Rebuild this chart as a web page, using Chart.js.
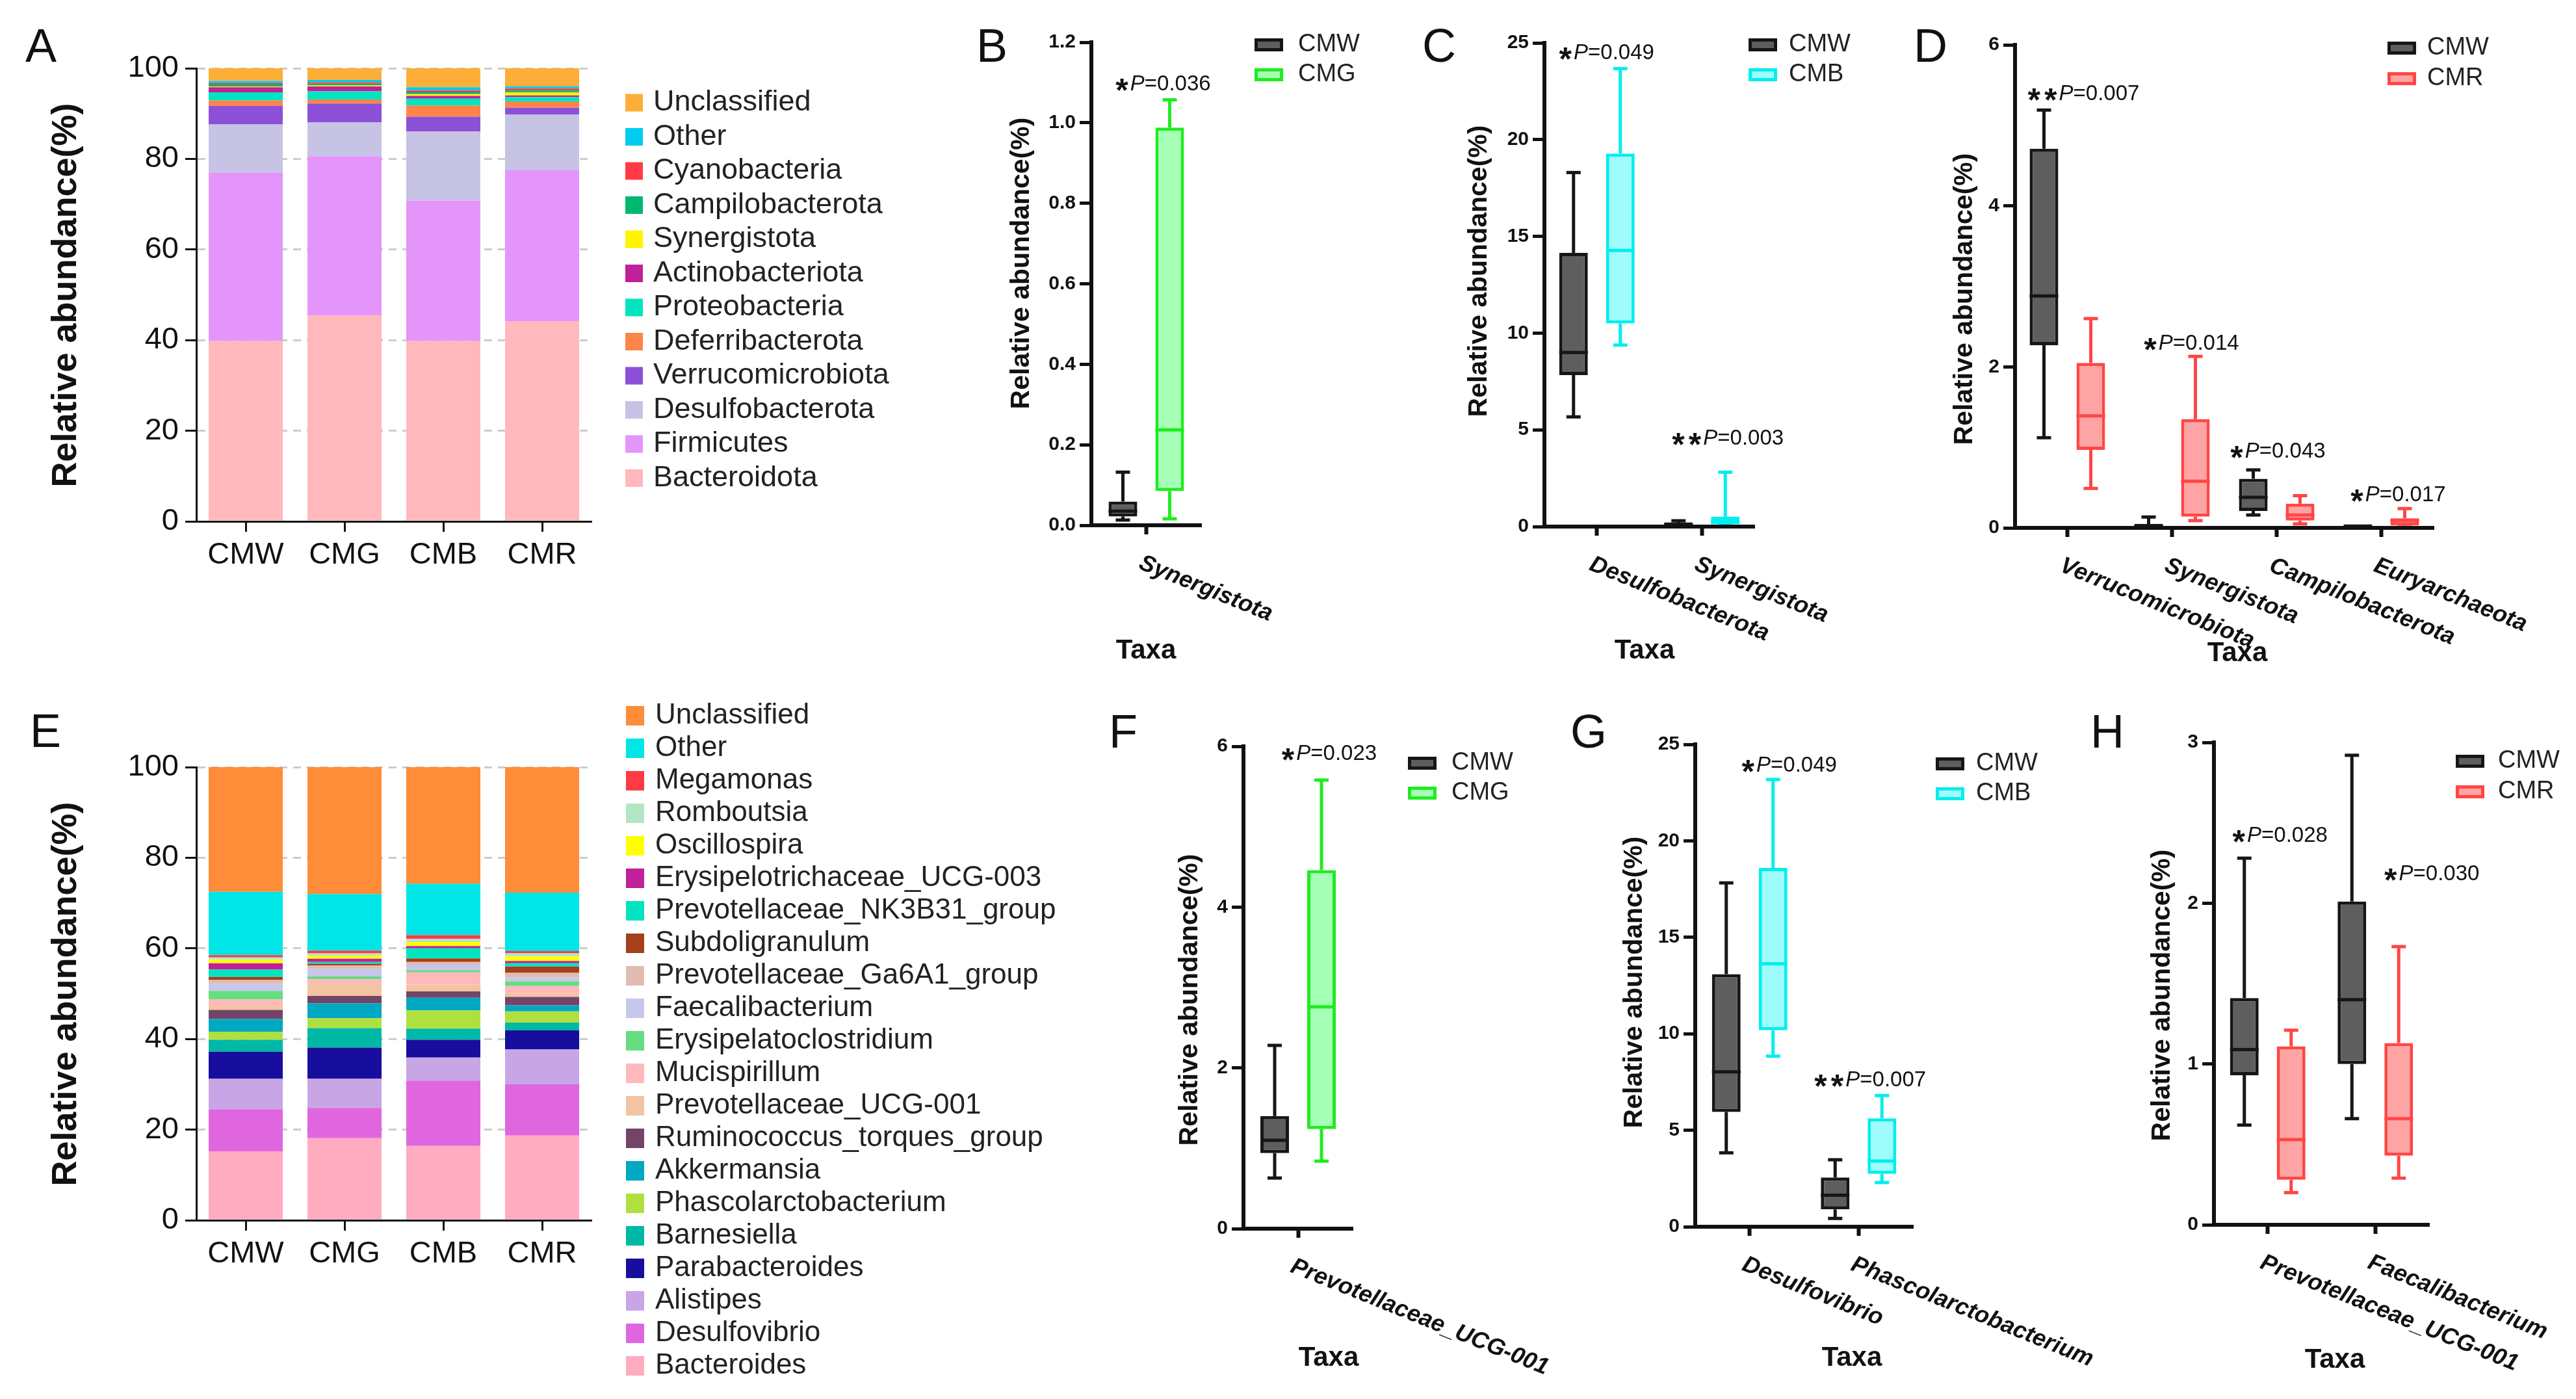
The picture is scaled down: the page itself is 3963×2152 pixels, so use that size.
<!DOCTYPE html>
<html>
<head>
<meta charset="utf-8">
<title>Relative abundance of gut microbiota</title>
<script src="https://cdn.jsdelivr.net/npm/chart.js@4/dist/chart.umd.min.js"></script>
<style>
  html, body { margin:0; padding:0; background:#ffffff; }
  #page { position:relative; width:3963px; height:2152px; overflow:hidden; background:#ffffff; }
  #page canvas { position:absolute; }
</style>
</head>
<body>
<div id="page"></div>
<script>
// ======================= DATA =======================
const groups = ['CMW', 'CMG', 'CMB', 'CMR'];
const stackTicks = [0, 20, 40, 60, 80, 100];

// Panel A – phylum level (stack order bottom -> top)
const phylumTaxa = ['Bacteroidota','Firmicutes','Desulfobacterota','Verrucomicrobiota','Deferribacterota','Proteobacteria','Actinobacteriota','Synergistota','Campilobacterota','Cyanobacteria','Other','Unclassified'];
const phylumCMW = [39.8, 37.1, 10.7, 4.1, 1.2, 1.8, 1.1, 0.2, 0.4, 0.3, 0.5, 2.8];
const phylumCMG = [45.4, 35.2, 7.5, 4.1, 0.9, 1.8, 1.1, 0.2, 0.4, 0.3, 0.5, 2.6];
const phylumCMB = [39.8, 31.0, 15.3, 3.2, 2.5, 1.5, 0.6, 0.4, 0.4, 0.4, 0.7, 4.2];
const phylumCMR = [44.2, 33.4, 12.2, 1.5, 1.4, 0.9, 0.4, 0.7, 0.4, 0.4, 0.5, 4.0];
const phylumColors = ['#FFB8BC','#E495FA','#C7C3E5','#8C50D8','#FF8448','#00E5C0','#C0209A','#FFF500','#00B870','#FF3A47','#00CCF0','#FDAE38'];

// Panel E – genus level (stack order bottom -> top)
const genusTaxa = ['Bacteroides','Desulfovibrio','Alistipes','Parabacteroides','Barnesiella','Phascolarctobacterium','Akkermansia','Ruminococcus_torques_group','Prevotellaceae_UCG-001','Mucispirillum','Erysipelatoclostridium','Faecalibacterium','Prevotellaceae_Ga6A1_group','Subdoligranulum','Prevotellaceae_NK3B31_group','Erysipelotrichaceae_UCG-003','Oscillospira','Romboutsia','Megamonas','Other','Unclassified'];
const genusCMW = [15.2, 9.3, 6.7, 6.0, 2.6, 1.8, 2.8, 2.0, 1.1, 1.2, 1.9, 1.6, 0.8, 0.7, 1.6, 1.4, 0.8, 0.5, 0.5, 14.0, 27.5];
const genusCMG = [18.1, 6.7, 6.4, 6.9, 4.3, 2.2, 3.3, 1.6, 2.7, 1.0, 0.6, 1.6, 0.8, 0.4, 0.4, 0.7, 0.7, 0.5, 0.6, 12.5, 28.0];
const genusCMB = [16.4, 14.4, 5.1, 3.9, 2.5, 4.0, 2.8, 1.4, 1.5, 2.7, 0.5, 1.2, 0.6, 0.8, 2.2, 0.5, 0.9, 0.7, 0.8, 11.4, 25.7];
const genusCMR = [18.7, 11.3, 7.7, 4.2, 1.7, 2.5, 1.3, 1.9, 0.8, 1.6, 1.0, 0.9, 1.0, 1.4, 0.7, 0.5, 1.0, 0.7, 0.5, 12.9, 27.7];
const genusColors = ['#FFABC0','#E066E0','#C8A6E6','#180E9E','#00B8A6','#B0E040','#00A8C2','#744468','#F2C4A2','#FFB8BC','#66DD80','#C7C7EC','#E2BCB0','#A4401C','#00E5C0','#C0209A','#FFFF00','#B3E6C4','#FF3A47','#00E6E6','#FF8C38'];

// Box plots: each entry = [min, Q1, median, Q3, max]
// annotations: [stars, P value, taxon index, height of label (data units)]
const ticksB = [0, 0.2, 0.4, 0.6, 0.8, 1.0, 1.2];
const taxaB = ['Synergistota'];
const boxB_CMW = [[0.013, 0.022, 0.035, 0.059, 0.132]];
const boxB_CMG = [[0.016, 0.085, 0.237, 0.988, 1.057]];
const annB = [['*', '0.036', 0, 1.10]];

const ticksC = [0, 5, 10, 15, 20, 25];
const taxaC = ['Desulfobacterota', 'Synergistota'];
const boxC_CMW = [[5.67, 7.83, 9.0, 14.15, 18.3], [0.02, 0.05, 0.10, 0.18, 0.30]];
const boxC_CMB = [[9.38, 10.5, 14.27, 19.28, 23.67], [0.05, 0.12, 0.25, 0.50, 2.81]];
const annC = [['*', '0.049', 0, 24.56], ['**', '0.003', 1, 4.64]];

const ticksD = [0, 2, 4, 6];
const taxaD = ['Verrucomicrobiota', 'Synergistota', 'Campilobacterota', 'Euryarchaeota'];
const boxD_CMW = [[1.12, 2.27, 2.88, 4.71, 5.19], [0.005, 0.01, 0.02, 0.04, 0.135], [0.16, 0.21, 0.38, 0.61, 0.72], [0.0, 0.005, 0.01, 0.015, 0.02]];
const boxD_CMR = [[0.49, 0.97, 1.39, 2.05, 2.60], [0.09, 0.14, 0.58, 1.35, 2.13], [0.05, 0.09, 0.16, 0.30, 0.40], [0.01, 0.03, 0.09, 0.12, 0.24]];
const annD = [['**', '0.007', 0, 5.41], ['*', '0.014', 1, 2.31], ['*', '0.043', 2, 0.97], ['*', '0.017', 3, 0.43]];

const ticksF = [0, 2, 4, 6];
const taxaF = ['Prevotellaceae_UCG-001'];
const boxF_CMW = [[0.63, 0.94, 1.10, 1.40, 2.28]];
const boxF_CMG = [[0.84, 1.24, 2.76, 4.46, 5.58]];
const annF = [['*', '0.023', 0, 5.93]];

const ticksG = [0, 5, 10, 15, 20, 25];
const taxaG = ['Desulfovibrio', 'Phascolarctobacterium'];
const boxG_CMW = [[3.83, 5.95, 8.03, 13.09, 17.82], [0.43, 0.90, 1.63, 2.55, 3.47]];
const boxG_CMB = [[8.84, 10.18, 13.63, 18.60, 23.18], [2.29, 2.74, 3.40, 5.62, 6.80]];
const annG = [['*', '0.049', 0, 23.99], ['**', '0.007', 1, 7.68]];

const ticksH = [0, 1, 2, 3];
const taxaH = ['Prevotellaceae_UCG-001', 'Faecalibacterium'];
const boxH_CMW = [[0.62, 0.93, 1.09, 1.41, 2.28], [0.66, 1.00, 1.40, 2.01, 2.92]];
const boxH_CMR = [[0.20, 0.28, 0.53, 1.11, 1.21], [0.29, 0.43, 0.66, 1.13, 1.73]];
const annH = [['*', '0.028', 0, 2.43], ['*', '0.030', 1, 2.19]];

// ======================= STYLE =======================
const FONT = '"Liberation Sans", Arial, Helvetica, sans-serif';
const INK = '#111111';
const groupStyle = {
  CMW: { fill: '#5e5e5e', line: '#161616' },
  CMG: { fill: '#a6ffb6', line: '#1fec1f' },
  CMB: { fill: '#9ffcfc', line: '#00eeee' },
  CMR: { fill: '#ffa4a4', line: '#ff4646' }
};
Chart.defaults.font.family = FONT;
Chart.defaults.color = INK;

const page = document.getElementById('page');
function makeCanvas(r) {
  const c = document.createElement('canvas');
  c.width = r.w; c.height = r.h;
  c.style.left = r.x + 'px'; c.style.top = r.y + 'px';
  c.style.width = r.w + 'px'; c.style.height = r.h + 'px';
  page.appendChild(c);
  return c.getContext('2d');
}
function padFor(r, plot, yW, xH) {
  return { left: plot.l - r.x - yW, top: plot.t - r.y, right: r.x + r.w - plot.r, bottom: r.y + r.h - plot.b - xH };
}
function txt(ctx, s, x, y, font, align, base, color) {
  ctx.font = font; ctx.textAlign = align || 'left'; ctx.textBaseline = base || 'alphabetic';
  ctx.fillStyle = color || INK; ctx.fillText(s, x, y);
}
function vtitle(ctx, s, x, y, font) {
  ctx.save(); ctx.translate(x, y); ctx.rotate(-Math.PI / 2);
  txt(ctx, s, 0, 0, font, 'center', 'middle'); ctx.restore();
}
function decorPlugin(r, fn) {
  return { id: 'decor', afterDraw(chart) { const ctx = chart.ctx; ctx.save(); ctx.translate(-r.x, -r.y); fn(ctx, chart); ctx.restore(); } };
}
function drawPval(ctx, stars, p, cx, cy) {
  const fs = 'bold 50px ' + FONT, fi = 'italic 33px ' + FONT, fr = '33px ' + FONT;
  ctx.font = fs; const one = ctx.measureText('*').width;
  const starStep = one + 6;
  const sw = one + (stars.length - 1) * starStep;
  ctx.font = fi; const pw = ctx.measureText('P').width;
  const rest = '=' + p;
  ctx.font = fr; const rw = ctx.measureText(rest).width;
  const gap = 3;
  let x = cx - (sw + gap + pw + rw) / 2;
  for (let i = 0; i < stars.length; i++) txt(ctx, '*', x + i * starStep, cy + 29, fs, 'left', 'alphabetic');
  x += sw + gap;
  txt(ctx, 'P', x, cy + 12, fi, 'left', 'alphabetic');
  x += pw;
  txt(ctx, rest, x, cy + 12, fr, 'left', 'alphabetic');
}

// whiskers + medians for the box plots, drawn from the stats through the y scale
const boxWhiskers = {
  id: 'boxWhiskers',
  afterDatasetsDraw(chart) {
    const ctx = chart.ctx, ys = chart.scales.y;
    chart.data.datasets.forEach((ds, di) => {
      const meta = chart.getDatasetMeta(di);
      ds.stats.forEach((s, i) => {
        const el = meta.data[i]; if (!el) return;
        const x = el.x, w = el.width;
        const py = v => ys.getPixelForValue(v);
        ctx.save();
        ctx.strokeStyle = ds.borderColor; ctx.lineWidth = ds.borderWidth; ctx.lineCap = 'butt';
        const seg = (x1, y1, x2, y2) => { ctx.beginPath(); ctx.moveTo(x1, y1); ctx.lineTo(x2, y2); ctx.stroke(); };
        seg(x, py(s[3]), x, py(s[4]));
        seg(x, py(s[1]), x, py(s[0]));
        seg(x - w / 4, py(s[4]), x + w / 4, py(s[4]));
        seg(x - w / 4, py(s[0]), x + w / 4, py(s[0]));
        seg(x - w / 2, py(s[2]), x + w / 2, py(s[2]));
        ctx.restore();
      });
    });
  }
};

// ======================= STACKED PANELS =======================
function stackPanel(p) {
  const ctx = makeCanvas(p.region);
  const datasets = p.taxa.map((t, k) => ({
    label: t, data: p.series.map(g => g[k]), backgroundColor: p.colors[k],
    borderWidth: 0, barPercentage: 0.75, categoryPercentage: 1.0
  }));
  new Chart(ctx, {
    type: 'bar',
    data: { labels: groups, datasets },
    options: {
      responsive: false, animation: false, devicePixelRatio: 1, events: [],
      layout: { padding: padFor(p.region, p.plot, 180, 100) },
      plugins: { legend: { display: false }, tooltip: { enabled: false } },
      scales: {
        x: {
          stacked: true,
          grid: { display: true, drawOnChartArea: false, offset: false, drawTicks: true, tickLength: 16, tickWidth: 3, tickColor: INK },
          border: { display: true, color: INK, width: 3, z: 1 },
          ticks: { font: { family: FONT, size: 47 }, color: INK, padding: 8, autoSkip: false, maxRotation: 0 },
          afterFit: s => { s.height = 100; }
        },
        y: {
          stacked: true, min: stackTicks[0], max: stackTicks[stackTicks.length - 1],
          afterBuildTicks: s => { s.ticks = stackTicks.map(v => ({ value: v })); },
          grid: { display: true, color: '#cccccc', lineWidth: 3, drawTicks: true, tickLength: 17, tickWidth: 3, tickColor: INK },
          border: { display: true, color: INK, width: 3, dash: [12, 9], z: 1 },
          ticks: { font: { family: FONT, size: 47 }, color: INK, padding: 10 },
          afterFit: s => { s.width = 180; }
        }
      }
    },
    plugins: [decorPlugin(p.region, (c) => {
      txt(c, p.letter[0], p.letter[1], p.letter[2], '72px ' + FONT, 'left', 'alphabetic');
      vtitle(c, 'Relative abundance(%)', p.ytitle[0], p.ytitle[1], 'bold 54px ' + FONT);
      const L = p.legend, n = p.taxa.length;
      for (let i = 0; i < n; i++) {
        const k = n - 1 - i, y = L.y0 + i * L.dy;
        c.fillStyle = p.colors[k];
        c.fillRect(L.sx, y - L.sh / 2, L.sw, L.sh);
        txt(c, p.taxa[k], L.tx, y, L.size + 'px ' + FONT, 'left', 'middle', '#222');
      }
    })]
  });
}

// ======================= BOX PANELS =======================
function boxPanel(p) {
  const ctx = makeCanvas(p.region);
  const n = p.taxa.length;
  const catW = (p.plot.r - p.plot.l) / n;
  const slot = 72, boxW = 44;
  const datasets = p.series.map(s => ({
    label: s.name,
    data: s.stats.map(v => [v[1], v[3]]),
    stats: s.stats,
    backgroundColor: groupStyle[s.name].fill,
    borderColor: groupStyle[s.name].line,
    borderWidth: 5, borderSkipped: false, minBarLength: 5,
    categoryPercentage: Math.min(1, 2 * slot / catW),
    barPercentage: boxW / slot
  }));
  new Chart(ctx, {
    type: 'bar',
    data: { labels: p.taxa, datasets },
    options: {
      responsive: false, animation: false, devicePixelRatio: 1, events: [],
      layout: { padding: padFor(p.region, p.plot, 120, 60) },
      plugins: { legend: { display: false }, tooltip: { enabled: false } },
      scales: {
        x: {
          type: 'category', offset: true,
          grid: { display: true, drawOnChartArea: false, offset: false, drawTicks: true, tickLength: 14, tickWidth: 6, tickColor: INK },
          border: { display: true, color: INK, width: 6, z: 1 },
          ticks: { display: false },
          afterFit: s => { s.height = 60; }
        },
        y: {
          min: p.ticks[0], max: p.ticks[p.ticks.length - 1],
          afterBuildTicks: s => { s.ticks = p.ticks.map(v => ({ value: v })); },
          grid: { display: true, drawOnChartArea: false, drawTicks: true, tickLength: 18, tickWidth: 5, tickColor: INK },
          border: { display: true, color: INK, width: 6, z: 1 },
          ticks: { font: { family: FONT, size: 30, weight: 'bold' }, color: INK, padding: 6, callback: v => p.fmt(v) },
          afterFit: s => { s.width = 120; }
        }
      }
    },
    plugins: [boxWhiskers, decorPlugin(p.region, (c, chart) => {
      const r = p.region, xs = chart.scales.x, ys = chart.scales.y;
      txt(c, p.letter[0], p.letter[1], p.letter[2], '72px ' + FONT, 'left', 'alphabetic');
      vtitle(c, 'Relative abundance(%)', p.ytitle[0], p.ytitle[1], 'bold 41px ' + FONT);
      p.taxa.forEach((t, i) => {
        const x = xs.getPixelForValue(i) + r.x, y = chart.chartArea.bottom + r.y + 40;
        c.save(); c.translate(x - 3, y); c.rotate(22 * Math.PI / 180);
        txt(c, t, 0, 0, 'italic bold 36px ' + FONT, 'left', 'top');
        c.restore();
      });
      txt(c, 'Taxa', p.taxaPos[0], p.taxaPos[1], 'bold 42px ' + FONT, 'center', 'middle');
      p.series.forEach((s, k) => {
        const st = groupStyle[s.name], y = p.legend.y[k];
        c.fillStyle = st.fill; c.fillRect(p.legend.bx, y - 10, 44, 20);
        c.strokeStyle = st.line; c.lineWidth = 5; c.strokeRect(p.legend.bx + 2.5, y - 7.5, 39, 15);
        txt(c, s.name, p.legend.tx, y, '38px ' + FONT, 'left', 'middle', '#222');
      });
      const meta = chart.getDatasetMeta(1);
      p.ann.forEach((a, j) => {
        const el = meta.data[a[2]];
        drawPval(c, a[0], a[1], el.x + r.x + p.annDx[j], ys.getPixelForValue(a[3]) + r.y);
      });
    })]
  });
}

const fmt1 = v => Number(v).toFixed(1);
const fmt0 = v => String(v);

// ======================= BUILD =======================
stackPanel({
  region: { x: 0, y: 0, w: 1450, h: 1030 }, plot: { l: 302, t: 105, r: 910, b: 802 },
  taxa: phylumTaxa, colors: phylumColors, series: [phylumCMW, phylumCMG, phylumCMB, phylumCMR],
  letter: ['A', 39, 95], ytitle: [102, 454],
  legend: { sx: 962, sw: 27, sh: 27, tx: 1005, y0: 158, dy: 52.5, size: 45 }
});
stackPanel({
  region: { x: 0, y: 1030, w: 1700, h: 1122 }, plot: { l: 302, t: 1180, r: 910, b: 1877 },
  taxa: genusTaxa, colors: genusColors, series: [genusCMW, genusCMG, genusCMB, genusCMR],
  letter: ['E', 46, 1149], ytitle: [102, 1529],
  legend: { sx: 963, sw: 28, sh: 30, tx: 1008, y0: 1101, dy: 50, size: 44 }
});

boxPanel({
  region: { x: 1450, y: 0, w: 680, h: 1050 }, plot: { l: 1679, t: 65, r: 1848, b: 808 },
  taxa: taxaB, ticks: ticksB, fmt: fmt1,
  series: [{ name: 'CMW', stats: boxB_CMW }, { name: 'CMG', stats: boxB_CMG }],
  ann: annB, annDx: [-10],
  letter: ['B', 1502, 95], ytitle: [1572, 405], taxaPos: [1763, 1001],
  legend: { bx: 1930, tx: 1997, y: [69, 115] }
});
boxPanel({
  region: { x: 2130, y: 0, w: 740, h: 1050 }, plot: { l: 2376, t: 66, r: 2699, b: 810 },
  taxa: taxaC, ticks: ticksC, fmt: fmt0,
  series: [{ name: 'CMW', stats: boxC_CMW }, { name: 'CMB', stats: boxC_CMB }],
  ann: annC, annDx: [-21, 4],
  letter: ['C', 2188, 95], ytitle: [2276, 417], taxaPos: [2530, 1001],
  legend: { bx: 2690, tx: 2752, y: [69, 115] }
});
boxPanel({
  region: { x: 2870, y: 0, w: 1093, h: 1050 }, plot: { l: 3100, t: 69, r: 3744, b: 812 },
  taxa: taxaD, ticks: ticksD, fmt: fmt0,
  series: [{ name: 'CMW', stats: boxD_CMW }, { name: 'CMR', stats: boxD_CMR }],
  ann: annD, annDx: [-11, -6, -34, -10],
  letter: ['D', 2944, 95], ytitle: [3023, 460], taxaPos: [3442, 1005],
  legend: { bx: 3673, tx: 3734, y: [74, 121] }
});
boxPanel({
  region: { x: 1680, y: 1030, w: 800, h: 1122 }, plot: { l: 1913, t: 1148, r: 2081, b: 1890 },
  taxa: taxaF, ticks: ticksF, fmt: fmt0,
  series: [{ name: 'CMW', stats: boxF_CMW }, { name: 'CMG', stats: boxF_CMG }],
  ann: annF, annDx: [12],
  letter: ['F', 1706, 1150], ytitle: [1831, 1538], taxaPos: [2044, 2089],
  legend: { bx: 2166, tx: 2233, y: [1174, 1220] }
});
boxPanel({
  region: { x: 2400, y: 1030, w: 880, h: 1122 }, plot: { l: 2608, t: 1145, r: 2943, b: 1887 },
  taxa: taxaG, ticks: ticksG, fmt: fmt0,
  series: [{ name: 'CMW', stats: boxG_CMW }, { name: 'CMB', stats: boxG_CMB }],
  ann: annG, annDx: [25, -18],
  letter: ['G', 2416, 1150], ytitle: [2515, 1511], taxaPos: [2849, 2089],
  legend: { bx: 2978, tx: 3040, y: [1175, 1221] }
});
boxPanel({
  region: { x: 3150, y: 1030, w: 813, h: 1122 }, plot: { l: 3406, t: 1142, r: 3737, b: 1884 },
  taxa: taxaH, ticks: ticksH, fmt: fmt0,
  series: [{ name: 'CMW', stats: boxH_CMW }, { name: 'CMR', stats: boxH_CMR }],
  ann: annH, annDx: [-17, 51],
  letter: ['H', 3216, 1150], ytitle: [3327, 1531], taxaPos: [3592, 2092],
  legend: { bx: 3778, tx: 3843, y: [1171, 1218] }
});
</script>
</body>
</html>
